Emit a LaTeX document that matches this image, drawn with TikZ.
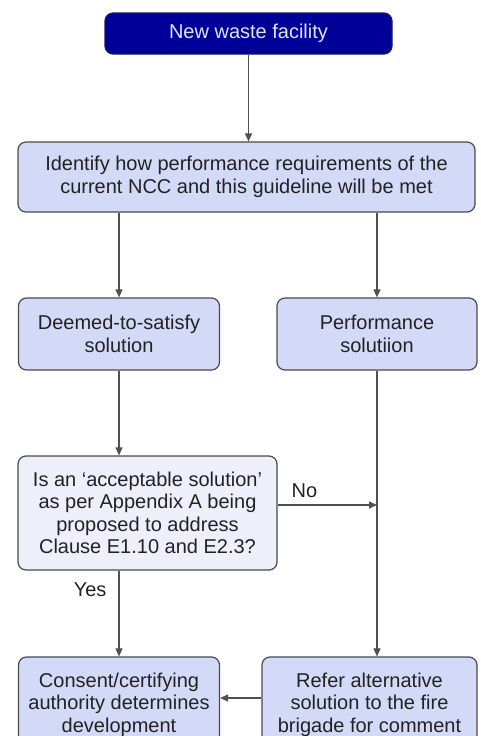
\documentclass[tikz,border=0pt]{standalone}
\usepackage{fontspec}
\setmainfont{Liberation Sans}
\usetikzlibrary{arrows.meta}
\definecolor{navybox}{HTML}{000099}
\definecolor{navyedge}{HTML}{1A1A5A}
\definecolor{lavfill}{HTML}{D3DAF8}
\definecolor{palefill}{HTML}{EDF0FA}
\definecolor{edgegray}{HTML}{4A4A4A}
\definecolor{linegray}{HTML}{505050}
\definecolor{inktext}{HTML}{222222}
\definecolor{paletext}{HTML}{DDE4FF}
\tikzset{
  flowbox/.style={draw=edgegray, line width=1.2pt, fill=lavfill, rounded corners=8pt,
    text=inktext, align=center, inner sep=0pt,
    font=\fontsize{20}{22.5}\selectfont},
  startbox/.style={flowbox, fill=navybox, draw=navyedge, text=paletext},
  askbox/.style={flowbox, fill=palefill},
  flowline/.style={draw=linegray, line width=1.1pt, -{Triangle[length=8pt,width=7pt]}},
  plainline/.style={draw=linegray, line width=1.1pt},
  tag/.style={text=inktext, font=\fontsize{20}{22.5}\selectfont, inner sep=0pt}
}
\begin{document}
\begin{tikzpicture}[x=1pt,y=-1pt]
  \useasboundingbox (0,0) rectangle (480,736);
  \clip (0,0) rectangle (480,736);

  \node[startbox, minimum width=287pt, minimum height=41pt] (start) at (248.5,33.5) {New waste facility};
  \node[flowbox, minimum width=457pt, minimum height=70pt] (identify) at (246.5,177)
    {Identify how performance requirements of the\\current NCC and this guideline will be met};
  \node[flowbox, minimum width=201pt, minimum height=72pt] (dts) at (119,334)
    {Deemed-to-satisfy\\solution};
  \node[flowbox, minimum width=200pt, minimum height=72pt] (perf) at (377,334)
    {Performance\\solutiion};
  \node[askbox, minimum width=259pt, minimum height=114pt] (ask) at (147.5,513)
    {Is an ‘acceptable solution’\\as per Appendix A being\\proposed to address\\Clause E1.10 and E2.3?};
  \node[flowbox, minimum width=201pt, minimum height=95pt] (consent) at (119,704.5)
    {Consent/certifying\\authority determines\\development};
  \node[flowbox, minimum width=215pt, minimum height=95pt] (refer) at (369.5,704.5)
    {Refer alternative\\solution to the fire\\brigade for comment};

  \coordinate (noout) at ([yshift=8pt]ask.east);
  \coordinate (nojoin) at (noout -| perf.south);

  \draw[flowline] (start) -- (identify.north -| start.south);
  \draw[flowline] (identify.south -| dts.north) -- (dts.north);
  \draw[flowline] (identify.south -| perf.north) -- (perf.north);
  \draw[flowline] (dts) -- (ask.north -| dts.south);
  \draw[flowline] (ask.south -| consent.north) -- node[pos=0.22, left=12pt, tag] {Yes} (consent.north);
  \draw[flowline] (perf.south) -- (refer.north -| perf.south);
  \draw[flowline] (noout) -- node[pos=0.27, above=7pt, tag] {No} (nojoin);
  \draw[flowline] (refer.west |- 0,698) -- (consent.east |- 0,698);
\end{tikzpicture}
\end{document}
